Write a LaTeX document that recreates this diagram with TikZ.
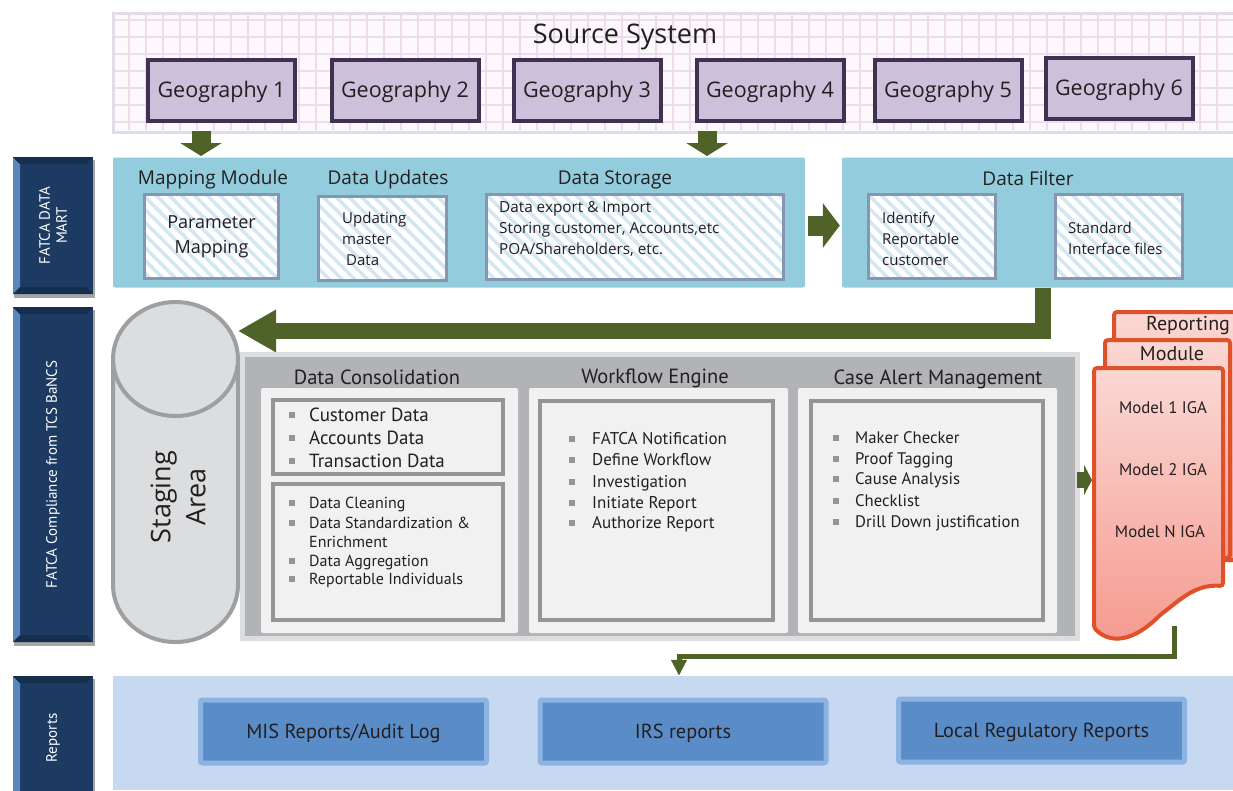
\documentclass[tikz,border=0pt]{standalone}
\usepackage{fontspec}
\setmainfont{Open Sans}
\newfontfamily\myr{PT Sans}
\usetikzlibrary{arrows.meta,patterns.meta,positioning}

\definecolor{ink}{HTML}{231F20}
\definecolor{srcbg}{HTML}{FCF9FC}
\definecolor{gridln}{HTML}{EEDCEE}
\definecolor{srcedge}{HTML}{E3DCE8}
\definecolor{geofill}{HTML}{CCC0DA}
\definecolor{geoline}{HTML}{3F3151}
\definecolor{arrgreen}{HTML}{4F6228}
\definecolor{martfill}{HTML}{93CDDD}
\definecolor{hatchline}{HTML}{8496B0}
\definecolor{stripe}{HTML}{D3E7F1}
\definecolor{navyfill}{HTML}{1C3A62}
\definecolor{navyhi}{HTML}{5A86BC}
\definecolor{navylo}{HTML}{15304F}
\definecolor{stagefill}{HTML}{DCDDDE}
\definecolor{stageline}{HTML}{9D9FA2}
\definecolor{paneledge}{HTML}{DCDDDE}
\definecolor{panelgray}{HTML}{B1B3B6}
\definecolor{colfill}{HTML}{F1F1F2}
\definecolor{iboxline}{HTML}{939598}
\definecolor{docred}{HTML}{DF5128}
\definecolor{doctop}{HTML}{FBD8D4}
\definecolor{docbottom}{HTML}{F5998E}
\definecolor{repbandfill}{HTML}{C6D9F1}
\definecolor{repedge}{HTML}{8DB3E2}
\definecolor{repfill}{HTML}{5A8DC8}

\newcommand{\fsz}[2]{\fontsize{#1}{#2}\selectfont}

\begin{document}
\begin{tikzpicture}[x=1pt,y=1pt]
\tikzstyle{every node}+=[inner sep=0pt, text=ink]
\tikzstyle{capc}=[text height=#1, text depth=0pt]
\tikzstyle{geo}=[draw=geoline, line width=4pt, fill=geofill, minimum width=147pt, minimum height=61pt, capc=15pt, font=\fsz{21.5}{24}]
\tikzstyle{band}=[fill=martfill, rounded corners=2pt, minimum height=130pt]
\tikzstyle{mtitle}=[capc=13.3pt, font=\fsz{19}{22}]
\tikzstyle{hatch}=[draw=hatchline, line width=3pt, preaction={fill=white}, pattern={Lines[angle=-45,distance=9pt,line width=3.5pt]}, pattern color=stripe]
\tikzstyle{blkarr}=[draw=arrgreen, line width=19pt, -{Triangle[width=41pt,length=13pt]}]
\tikzstyle{thinarr}=[draw=arrgreen, line width=5pt, -{Triangle[width=15pt,length=16pt]}]
\tikzstyle{navytxt}=[text=white, rotate=90, align=center, font=\myr\fsz{15}{17}]
\tikzstyle{ibox}=[draw=iboxline, line width=4pt, fill=colfill]
\tikzstyle{ptitle}=[capc=14.4pt, font=\myr\fsz{20.5}{22}]
\tikzstyle{bul}=[fill=iboxline, minimum size=6.5pt]
\tikzstyle{item}=[anchor=west]
\tikzstyle{doc}=[draw=docred, line width=4pt, top color=doctop, bottom color=docbottom, rounded corners=3pt]
\tikzstyle{doctxt}=[capc=11.8pt, font=\myr\fsz{16.8}{19}]
\tikzstyle{repbox}=[draw=repedge, line width=5pt, fill=repfill, rounded corners=2pt, minimum width=286pt, minimum height=63pt, capc=14.2pt, font=\myr\fsz{20.3}{22}]

\useasboundingbox (0,0) rectangle (1233,-790);
\clip (0,0) rectangle (1233,-790);

% source system
\fill[srcbg] (113,-13) rectangle (1245,-132);
\foreach \x in {129,146,...,1240} \draw[gridln, line width=1.2pt] (\x,-15) -- (\x,-130);
\foreach \y in {20,37,...,128} \draw[gridln, line width=1.2pt] (115,-\y) -- (1245,-\y);
\draw[srcedge, line width=3pt] (113,-13) rectangle (1245,-132);
\node[capc=19pt, font=\fsz{27}{30}] (src) at (625,-34) {Source System};
\node[geo] (geo1) at (221.5,-90) {Geography 1};
\node[geo] (geo2) at (405,-90) {Geography 2};
\node[geo] (geo3) at (587,-90) {Geography 3};
\node[geo] (geo4) at (770,-90) {Geography 4};
\node[geo] (geo5) at (948,-90) {Geography 5};
\node[geo] (geo6) at (1119,-88) {Geography 6};

% fatca data mart
\node[band, minimum width=692pt] (mart) at (459,-222.5) {};
\node[band, minimum width=396pt] (filt) at (1040,-222.5) {};
\coordinate (mapin) at (201,-156);
\coordinate (storein) at (707,-156);
\draw[blkarr] ([xshift=-20.5pt,yshift=-8.5pt]geo1.south) -- (mapin);
\draw[blkarr] ([xshift=-63pt,yshift=-8.5pt]geo4.south) -- (storein);
\node[mtitle] (mapt) at (213,-178) {Mapping Module};
\node[mtitle] (updt) at (388,-178) {Data Updates};
\node[mtitle] (stort) at (615,-178) {Data Storage};
\node[mtitle] (filtt) at (1028,-179) {Data Filter};
\node[hatch, minimum width=134pt, minimum height=84pt, align=center, font=\fsz{18}{25}] (parmap) at (211.5,-236.5) {Parameter\\Mapping};
\node[hatch, minimum width=128pt, minimum height=84pt] (upd) at (382.5,-238.5) {};
\node[align=left, anchor=west, font=\fsz{15}{21}] (updtxt) at (342,-239) {Updating\\master\\\hspace{4pt}Data};
\node[hatch, minimum width=297pt, minimum height=85pt] (stor) at (635,-237) {};
\node[align=left, anchor=west, font=\fsz{15.3}{21}] (stortxt) at (499,-229) {Data export \& Import\\Storing customer, Accounts,etc\\POA/Shareholders, etc.};
\node[hatch, minimum width=127pt, minimum height=84pt] (ident) at (932,-236.5) {};
\node[align=left, anchor=west, font=\fsz{15}{21}] (identtxt) at (882,-238.5) {Identify\\Reportable\\customer};
\node[hatch, minimum width=127pt, minimum height=84pt] (stdif) at (1119,-236.5) {};
\node[align=left, anchor=west, font=\fsz{15}{21}] (stdiftxt) at (1068,-238.5) {Standard\\Interface files};
\draw[blkarr, line width=20pt, -{Triangle[width=44pt,length=17pt]}, shorten <=3pt, shorten >=2pt] ([yshift=-3pt]mart.east) -- ([yshift=-3pt]filt.west);

% side labels
\foreach \n/\t/\b/\txt in {lmart/157/294/{FATCA DATA\\MART}, lbancs/307/642/{FATCA Compliance from TCS BaNCS}, lrep/676/800/{Reports}} {
  \fill[black!35] (14,-\t-3) rectangle (95,-\b-4);
  \fill[navyfill] (13,-\t) rectangle (93,-\b);
  \fill[navyhi] (13,-\t) -- (20,-\t-7) -- (20,-\b+7) -- (13,-\b) -- cycle;
  \fill[navylo] (13,-\t) -- (93,-\t) -- (86,-\t-7) -- (20,-\t-7) -- cycle;
  \fill[navylo] (13,-\b) -- (93,-\b) -- (86,-\b+7) -- (20,-\b+7) -- cycle;
  \node[navytxt] (\n) at (53,{-(\t+\b)/2}) {\txt};
}

% staging area
\draw[fill=stagefill, draw=stageline, line width=4pt] (113,-359) -- (113,-585) arc (180:360:62.5pt and 57pt) -- (238,-359) arc (0:180:62.5pt and 57pt) -- cycle;
\draw[stageline, line width=4pt] (113,-359) arc (180:360:62.5pt and 57pt);
\node[rotate=90, align=center, font=\fsz{27}{35}] (stage) at (178,-497) {Staging\\Area};
\coordinate (stagein) at (238,-331);
\draw[blkarr, line width=16pt, -{Triangle[width=40pt,length=38pt]}] ([xshift=3pt]filt.south) |- (stagein);

% processing panel
\node[fill=paneledge, minimum width=840pt, minimum height=289pt] (panel) at (660,-496.5) {};
\fill[panelgray] (245,-357) rectangle (1075,-636);
\fill[colfill, rounded corners=2pt] (261,-388) rectangle (518,-633);
\fill[colfill, rounded corners=2pt] (529,-388) rectangle (788,-633);
\fill[colfill, rounded corners=2pt] (798,-388) rectangle (1057,-633);
\node[ptitle] (dct) at (377,-377) {Data Consolidation};
\node[ptitle] (wft) at (655,-376) {Workflow Engine};
\node[ptitle] (cat) at (938,-377) {Case Alert Management};
\node[ibox, minimum width=230pt, minimum height=74pt] (dctop) at (388,-437) {};
\node[ibox, minimum width=230pt, minimum height=136pt] (dcbot) at (388,-552) {};
\node[ibox, minimum width=233pt, minimum height=219pt] (wfbox) at (656.5,-510.5) {};
\node[ibox, minimum width=232pt, minimum height=219pt] (cabox) at (927,-510.5) {};
\foreach \y/\t [count=\i] in {415/Customer Data, 438/Accounts Data, 461/Transaction Data} {
  \node[bul] (dcab\i) at (292,-\y) {};
  \node[item, capc=13.3pt, font=\myr\fsz{19}{20}] (dcat\i) at (309,-\y) {\t};
}
\foreach \y/\t [count=\i] in {503/Data Cleaning, 523/Data Standardization \&, 561/Data Aggregation, 579/Reportable Individuals} {
  \node[bul] (dcbb\i) at (292,-\y) {};
  \node[item, capc=11.2pt, font=\myr\fsz{16}{17}] (dcbt\i) at (309,-\y) {\t};
}
\node[item, capc=11.2pt, font=\myr\fsz{16}{17}] (dcbt5) at (309,-542) {Enrichment};
\foreach \y/\t [count=\i] in {439/FATCA Notification, 460/Define Workflow, 482/Investigation, 503/Initiate Report, 523/Authorize Report} {
  \node[bul] (wfb\i) at (572,-\y) {};
  \node[item, capc=11.9pt, font=\myr\fsz{17}{18}] (wft\i) at (592,-\y) {\t};
}
\foreach \y/\t [count=\i] in {438/Maker Checker, 459/Proof Tagging, 479/Cause Analysis, 501/Checklist, 522/Drill Down justification} {
  \node[bul] (cab\i) at (836,-\y) {};
  \node[item, capc=11.7pt, font=\myr\fsz{16.7}{18}] (cat\i) at (855,-\y) {\t};
}

% reporting module
\draw[doc] (1114,-312) -- (1245,-312) -- (1245,-560) -- (1114,-560) -- cycle;
\draw[doc] (1105,-340) -- (1230,-340) -- (1230,-558) -- (1105,-558) -- cycle;
\draw[doc] (1094,-368) -- (1223,-368) -- (1223,-586) .. controls (1195,-584) and (1180,-600) .. (1160,-615) .. controls (1140,-635) and (1115,-648) .. (1094,-628) -- cycle;
\node[doctxt, capc=14pt, font=\myr\fsz{20}{22}] (rep1) at (1188,-323) {Reporting};
\node[doctxt, capc=14pt, font=\myr\fsz{20}{22}] (rep2) at (1172,-353) {Module};
\node[doctxt] (mod1) at (1163,-408) {Model 1 IGA};
\node[doctxt] (mod2) at (1163,-470) {Model 2 IGA};
\node[doctxt] (modn) at (1160,-532) {Model N IGA};
\coordinate (docin) at (1092,-480);
\draw[blkarr, line width=16pt, -{Triangle[width=30pt,length=8pt]}] ([xshift=-3pt]panel.east |- docin) -- (docin);

% reports
\node[fill=repbandfill, minimum width=1127pt, minimum height=114pt] (reports) at (676.5,-733) {};
\coordinate (docout) at (1174,-626);
\draw[thinarr] (docout) -- ++(0,-30) -| ([xshift=2.5pt]reports.north);
\node[repbox] (mis) at (343.5,-731.5) {MIS Reports/Audit Log};
\node[repbox] (irs) at (683,-731.5) {IRS reports};
\node[repbox] (local) at (1041.5,-730.5) {Local Regulatory Reports};
\end{tikzpicture}
\end{document}
